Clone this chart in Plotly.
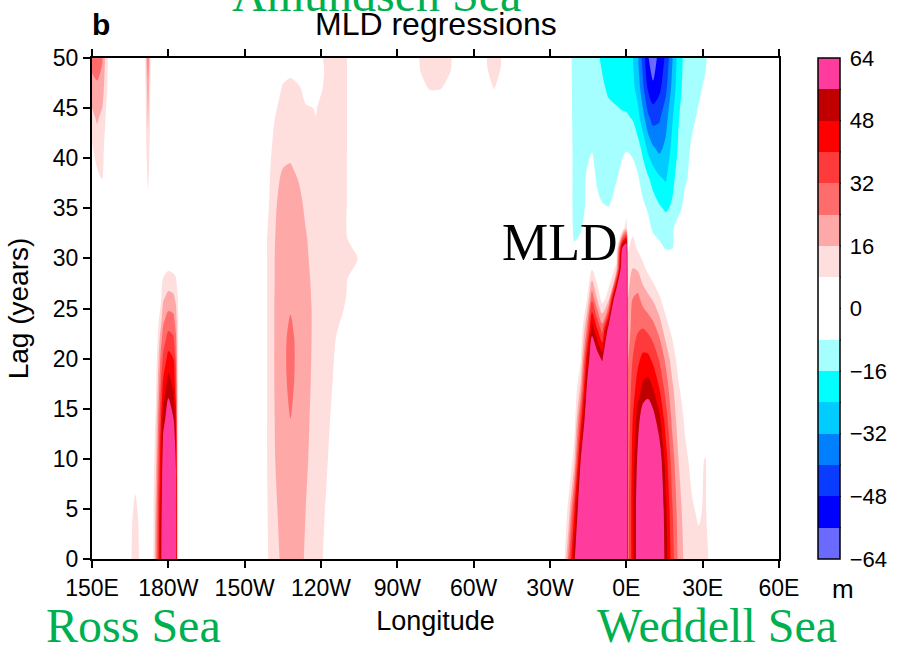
import plotly.graph_objects as go

# ---------------- colour levels (m) ----------------
band_colors = ['#6a6aff', '#0000ff', '#0a3cff', '#0080ff', '#00ccff', '#00ffff', '#a6ffff',
               '#ffffff', '#ffffff',
               '#ffdede', '#ffa8a8', '#ff6c6c', '#ff3a3a', '#ff0000', '#c00000', '#ff3c9e']
cbar_ticks = [-64, -48, -32, -16, 0, 16, 32, 48, 64]

# ---------------- axes ----------------
lon_ticks = [150, 180, 210, 240, 270, 300, 330, 360, 390, 420]
lon_labels = ['150E', '180W', '150W', '120W', '90W', '60W', '30W', '0E', '30E', '60E']
lag_ticks = [0, 5, 10, 15, 20, 25, 30, 35, 40, 45, 50]

# ---------------- data (longitude in degrees east, 150..420; lag in years) ----------------
# Ross Sea, top-left patch
lon_a1 = [150, 152, 154, 156, 158]
lag_a1 = [35, 38, 41, 44, 47, 50]
mld_a1 = [
    [0, 0, 0, 0, 0],
    [3, 6, 8.5, 1, 0],
    [7, 12, 11, 2, 0],
    [14, 17, 14, 5, 0],
    [20, 22, 20, 8, 0],
    [28, 30, 25, 9, 0],
]

# thin streak near 172E
lon_a2 = [170.5, 172, 173.5]
lag_a2 = [34, 37, 40, 43, 46, 48, 50]
mld_a2 = [
    [0, 3, 0],
    [0, 8.3, 0],
    [0, 12, 0],
    [0, 16.5, 0],
    [0, 20, 0],
    [0, 24, 0],
    [0, 28, 0],
]

# small streak near 167E
lon_a3 = [164.5, 165.8, 167, 168.2, 169.5]
lag_a3 = [0, 3, 6, 9]
mld_a3 = [
    [0, 10, 12, 10, 0],
    [0, 8.5, 11, 8.5, 0],
    [0, 6, 9, 6, 0],
    [0, 0, 2, 0, 0],
]

# Ross Sea core at 180
lon_a4 = [173.5, 175, 177, 178, 180, 182, 183, 183.6, 185]
lag_a4 = [0, 4, 8, 12, 14, 16, 18, 20, 22, 24, 26, 28, 30, 32]
mld_a4 = [
    [0, 20, 52, 70, 75, 72, 60, 10, 0],
    [0, 18, 50, 68, 75, 72, 60, 10, 0],
    [0, 14, 46, 64, 75, 70, 58, 10, 0],
    [0, 10, 42, 58, 70, 64, 50, 10, 0],
    [0, 8.5, 38, 52, 62, 56.5, 44, 10, 0],
    [0, 6, 34, 46, 56.5, 50, 38, 10, 0],
    [0, 4, 30, 40, 50, 45, 34, 10, 0],
    [0, 2, 26, 34, 43, 40, 30, 10, 0],
    [0, 0, 20, 28, 35, 33, 25, 10, 0],
    [0, 0, 12, 22, 27, 26, 20, 10, 0],
    [0, 0, 6, 15, 19, 18, 14, 9, 0],
    [0, 0, 2, 8.5, 11, 10, 8.5, 5, 0],
    [0, 0, 0, 2, 3, 2, 1, 0, 0],
    [0, 0, 0, 0, 0, 0, 0, 0, 0],
]

# Amundsen Sea sector, 130W
lon_b = [216, 219, 222, 225, 228, 231, 234, 238, 242, 246, 250, 254, 257]
lag_b = [0, 5, 10, 14, 18, 22, 25, 28, 30, 32, 36, 39, 42, 45, 47, 49, 50]
mld_b = [
    [0, 7.5, 14, 17.5, 18, 17.5, 15.5, 11, 6.5, 1, 0, 0, 0],
    [0, 8, 15, 18.5, 19.5, 18.5, 16, 12, 7.5, 2, 0, 0, 0],
    [0, 8.5, 16, 19.5, 21, 19.5, 17, 13, 9, 3.5, 0, 0, 0],
    [0, 8.5, 16.5, 21, 24, 21, 17.5, 13.5, 10, 5, 0.5, 0, 0],
    [0, 8.5, 17, 22, 26, 22, 18, 14, 11, 6.5, 2, 0, 0],
    [0, 8.5, 17, 22, 26, 22, 18, 14.5, 12, 7.8, 3, 0, 0],
    [0, 8.5, 17, 21.5, 23.5, 21.5, 18, 14.5, 12, 9.5, 7.5, 1, 0],
    [0, 8.5, 16.5, 20.5, 22, 20.5, 17.5, 14, 12, 10, 8.5, 4, 0],
    [0, 8.5, 16.5, 20, 21, 20, 17, 13.5, 11.5, 10, 9, 9, 0],
    [0, 8.5, 16, 19.5, 20, 19, 16.5, 13, 11, 9.5, 8.5, 3, 0],
    [0, 6, 15, 18.5, 19, 17.5, 14.5, 12, 10.5, 9.5, 8.3, 2, 0],
    [0, 5, 13, 16, 16.5, 15, 13, 11, 10, 9, 8.3, 1, 0],
    [0, 3, 10.5, 13, 13.5, 12, 10, 8.5, 9, 9, 8.5, 0, 0],
    [0, 0, 7, 11, 12, 10.5, 8.5, 7.8, 9.5, 9.5, 8.5, 0, 0],
    [0, 0, 3, 9, 10, 9, 6, 5, 9.5, 9.5, 8.5, 0, 0],
    [0, 0, 0, 4, 6, 4, 2, 4, 9, 9.5, 8.5, 0, 0],
    [0, 0, 0, 3, 5, 3, 1, 5, 9.5, 9.5, 8.5, 0, 0],
]

# faint patches at lag 50
lon_c1 = [276, 279, 283, 287, 291, 294]
lag_c1 = [45, 47, 49, 50]
mld_c1 = [
    [0, 0, 0, 0, 0, 0],
    [0, 5, 9, 8.5, 5, 0],
    [0, 8.5, 10, 10, 8.5, 0],
    [0, 9, 11, 11, 9, 0],
]
lon_c2 = [303, 305.5, 308, 310.5, 313]
lag_c2 = [45, 47, 49, 50]
mld_c2 = [
    [0, 0, 0, 0, 0],
    [0, 4, 8.5, 4, 0],
    [0, 8.3, 10, 8.3, 0],
    [0, 9, 11, 9, 0],
]

# Weddell Sea sector (first column at 150 = zero background across the Pacific)
lon_w = [150, 335.5, 337.5, 339.5, 342, 344.5, 346.5, 348.5, 350.5, 353, 356, 358.5, 360,
         360.6, 362.5, 364.5, 366.5, 368.5, 370.5, 373, 375.5, 378, 380.5, 383, 386, 388.5,
         391, 393.5, 397, 420]
lag_w = [0, 5, 10, 14, 17, 20, 23, 26, 29, 31, 33, 35, 38, 41, 44, 47, 50]
mld_w = [
    [0, 5, 30, 54, 75, 80, 80, 80, 80, 80, 80, 80, 80, 28, 45, 62, 75, 78, 78, 70, 52, 36, 22, 14, 11, 10, 10, 6, 0, 0],
    [0, 0, 12, 38, 70, 80, 80, 80, 80, 80, 80, 80, 80, 28, 45, 62, 75, 78, 78, 68, 50, 33, 20, 12, 8.5, 7, 9, 2, 0, 0],
    [0, 0, 0, 12, 55, 78, 80, 80, 80, 80, 80, 80, 80, 27, 43, 58, 72, 75, 72, 62, 44, 28, 16, 9.5, 6, 5, 8.5, 0, 0, 0],
    [0, 0, 0, 2, 35, 68, 80, 80, 80, 80, 80, 80, 80, 26, 40, 52, 62, 64, 60, 50, 36, 22, 12, 7, 3, 2, 2, 0, 0, 0],
    [0, 0, 0, 0, 18, 58, 80, 80, 75, 80, 80, 80, 80, 25, 36, 44, 50, 52, 48, 40, 29, 18, 9, 4, 0, 0, 0, 0, 0, 0],
    [0, 0, 0, 0, 6, 45, 68, 62, 54, 75, 80, 80, 80, 23, 32, 38, 42, 42, 38, 31, 22, 12, 5, 0, 0, 0, 0, 0, 0, 0],
    [0, 0, 0, 0, 0, 25, 52, 40, 28, 60, 80, 80, 80, 20, 27, 31, 32, 30, 27, 21, 11, 6, 0, 0, 0, 0, 0, 0, 0, 0],
    [0, 0, 0, 0, 0, 7, 30, 16, 4, 12, 75, 80, 80, 16, 24, 26, 21, 18, 15, 9, 4, 0, 0, 0, 0, 0, 0, 0, 0, 0],
    [0, 0, 0, 0, 0, 0, 7, 0, 0, 0, 10, 75, 80, 11, 16, 15, 10, 6, 2, 0, 0, 0, 0, 0, 0, 0, 0, 0, 0, 0],
    [0, 0, 0, -7, -5, 0, 0, 0, 0, 0, 0, 60, 70, 7, 11, 7, 4, 0, -3, -6, -8.5, -8.3, -3, 0, 0, 0, 0, 0, 0, 0],
    [0, 0, -2, -10, -9, -4, 0, 0, 0, 0, 0, 2, 15, 0, 6, 0, 0, -5, -9.5, -11, -12, -9, -5, -2, 0, 0, 0, 0, 0, 0],
    [0, 0, -2, -11, -10, -7, -3, -6, -7.5, -7.8, -5, 0, 0, 0, 0, -4, -6, -9, -12, -15, -17, -15, -10, -6, -3, 0, 0, 0, 0, 0],
    [0, 0, -2, -11, -10, -7.5, -5, -9, -10, -11, -8.5, -6, -4, -4, -5, -7, -12, -15, -19, -23, -25, -18, -13, -9, -6, -3, 0, 0, 0, 0],
    [0, 0, -2, -11, -10.5, -9, -8.5, -10, -11, -12, -11, -9, -8.5, -8.6, -9.5, -13, -18, -26, -31, -34, -30, -22, -15, -10, -7, -4, -1, 0, 0, 0],
    [0, 0, -2, -12, -11, -10, -10.5, -12, -13, -14, -14.5, -15, -15, -15.3, -16.5, -21, -29, -38, -43, -41, -35, -25, -16.5, -12, -9, -7, -4, -1, 0, 0],
    [0, 0, -2, -13, -12, -12, -12.5, -14, -15, -17, -18, -19, -20, -20.5, -22, -27, -38, -49, -54, -50, -42, -30, -19, -13, -11, -9, -7, -3, 0, 0],
    [0, 0, -2, -14, -13, -13, -14, -15, -17, -19, -20, -21, -22, -22.5, -23.5, -31, -43, -55, -62, -52, -47, -33, -20, -14, -12, -10.5, -9, -5, 0, 0],
]

# ---------------- styling ----------------
SANS = 'Liberation Sans, Arial, Helvetica, sans-serif'
SERIF = 'Liberation Serif, Times New Roman, serif'
GREEN = '#00b050'


def stepped(colors):
    n = len(colors)
    out = []
    for k, c in enumerate(colors):
        out.append([k / n, c])
        out.append([(k + 1) / n, c])
    return out


full_scale = stepped(band_colors)          # all 16 bands, levels -56..56
pos_scale = stepped(band_colors[8:])       # 0..8 (white) + positive bands, levels 8..56

CB_X0 = (818 - 92) / 687.0
CB_X1 = (841 - 92) / 687.0


def make_contour(lon, lag, z, full=False, showscale=False):
    if full:
        cont = dict(start=-56, end=56, size=8, coloring='fill', showlines=False)
        scale = full_scale
    else:
        cont = dict(start=8, end=56, size=8, coloring='fill', showlines=False)
        scale = pos_scale
    kw = dict(
        x=lon, y=lag, z=z,
        colorscale=scale, zmin=-64, zmax=64, zauto=False,
        autocontour=False, contours=cont,
        line=dict(width=0, smoothing=0.8),
        showscale=showscale, hoverinfo='skip',
    )
    if showscale:
        kw['colorbar'] = dict(
            x=CB_X0, xanchor='left', xref='paper', y=0.5, yanchor='middle',
            len=1, lenmode='fraction', thickness=22, thicknessmode='pixels',
            xpad=0, ypad=0, outlinewidth=1.5, outlinecolor='black',
            tickmode='array', tickvals=cbar_ticks, ticks='outside', ticklen=5,
            tickcolor='rgba(0,0,0,0)',
            tickfont=dict(family=SANS, size=22, color='black'),
        )
    return go.Contour(**kw)


fig = go.Figure()
fig.add_trace(make_contour(lon_w, lag_w, mld_w, full=True, showscale=True))
fig.add_trace(make_contour(lon_a1, lag_a1, mld_a1))
fig.add_trace(make_contour(lon_a2, lag_a2, mld_a2))
fig.add_trace(make_contour(lon_a3, lag_a3, mld_a3))
fig.add_trace(make_contour(lon_a4, lag_a4, mld_a4))
fig.add_trace(make_contour(lon_b, lag_b, mld_b))
fig.add_trace(make_contour(lon_c1, lag_c1, mld_c1))
fig.add_trace(make_contour(lon_c2, lag_c2, mld_c2))

# colour-bar box separators
shapes = []
for v in range(-56, 64, 8):
    yy = (v + 64) / 128.0
    shapes.append(dict(type='line', xref='paper', yref='paper', x0=CB_X0, x1=CB_X1,
                       y0=yy, y1=yy, line=dict(color='#333333', width=1.2), layer='above'))

fig.update_layout(
    width=909, height=649,
    margin=dict(l=92, r=130, t=58, b=90),
    paper_bgcolor='white', plot_bgcolor='white',
    font=dict(family=SANS, color='black'),
    showlegend=False,
    shapes=shapes,
    xaxis=dict(
        range=[150, 420], tickmode='array', tickvals=lon_ticks, ticktext=lon_labels,
        ticks='outside', ticklen=7, tickwidth=1.5, tickcolor='black',
        showline=True, linewidth=2, linecolor='black', mirror='ticks',
        showgrid=False, zeroline=False,
        tickfont=dict(family=SANS, size=23, color='black'),
        title=dict(text='Longitude', font=dict(family=SANS, size=27, color='black'), standoff=12),
    ),
    yaxis=dict(
        range=[0, 50], tickmode='array', tickvals=lag_ticks,
        ticks='outside', ticklen=7, tickwidth=1.5, tickcolor='black',
        showline=True, linewidth=2, linecolor='black', mirror=True,
        showgrid=False, zeroline=False,
        tickfont=dict(family=SANS, size=23, color='black'),
        title=dict(text='Lag (years)', font=dict(family=SANS, size=28, color='black'), standoff=16),
    ),
    yaxis2=dict(
        range=[0, 50], overlaying='y', side='right', anchor='x',
        tickmode='array', tickvals=lag_ticks, ticks='inside', ticklen=6, tickwidth=1.5,
        tickcolor='black', showticklabels=False, showline=False, showgrid=False, zeroline=False,
    ),
)

annotations = [
    dict(text='<b>b</b>', x=(101 - 92) / 687.0, y=1.066, font=dict(family=SANS, size=30)),
    dict(text='MLD regressions', x=0.5, y=1.068, font=dict(family=SANS, size=32)),
    dict(text='Amundsen Sea', x=(376 - 92) / 687.0, y=1.1277,
         font=dict(family=SERIF, size=48, color=GREEN)),
    dict(text='Ross Sea', x=(133.5 - 92) / 687.0, y=-0.1337,
         font=dict(family=SERIF, size=48, color=GREEN)),
    dict(text='Weddell Sea', x=(717 - 92) / 687.0, y=-0.1337,
         font=dict(family=SERIF, size=48, color=GREEN)),
    dict(text='MLD', x=(559.5 - 92) / 687.0, y=0.632, font=dict(family=SERIF, size=52)),
    dict(text='m', x=(843 - 92) / 687.0, y=-0.0599, font=dict(family=SANS, size=26)),
]
for a in annotations:
    a.update(xref='paper', yref='paper', showarrow=False, xanchor='center', yanchor='middle')
    a['font'].setdefault('color', 'black')
fig.update_layout(annotations=annotations)

fig.write_html("out.html", config={'displayModeBar': False},
               post_script="document.body.style.margin='0px';")
